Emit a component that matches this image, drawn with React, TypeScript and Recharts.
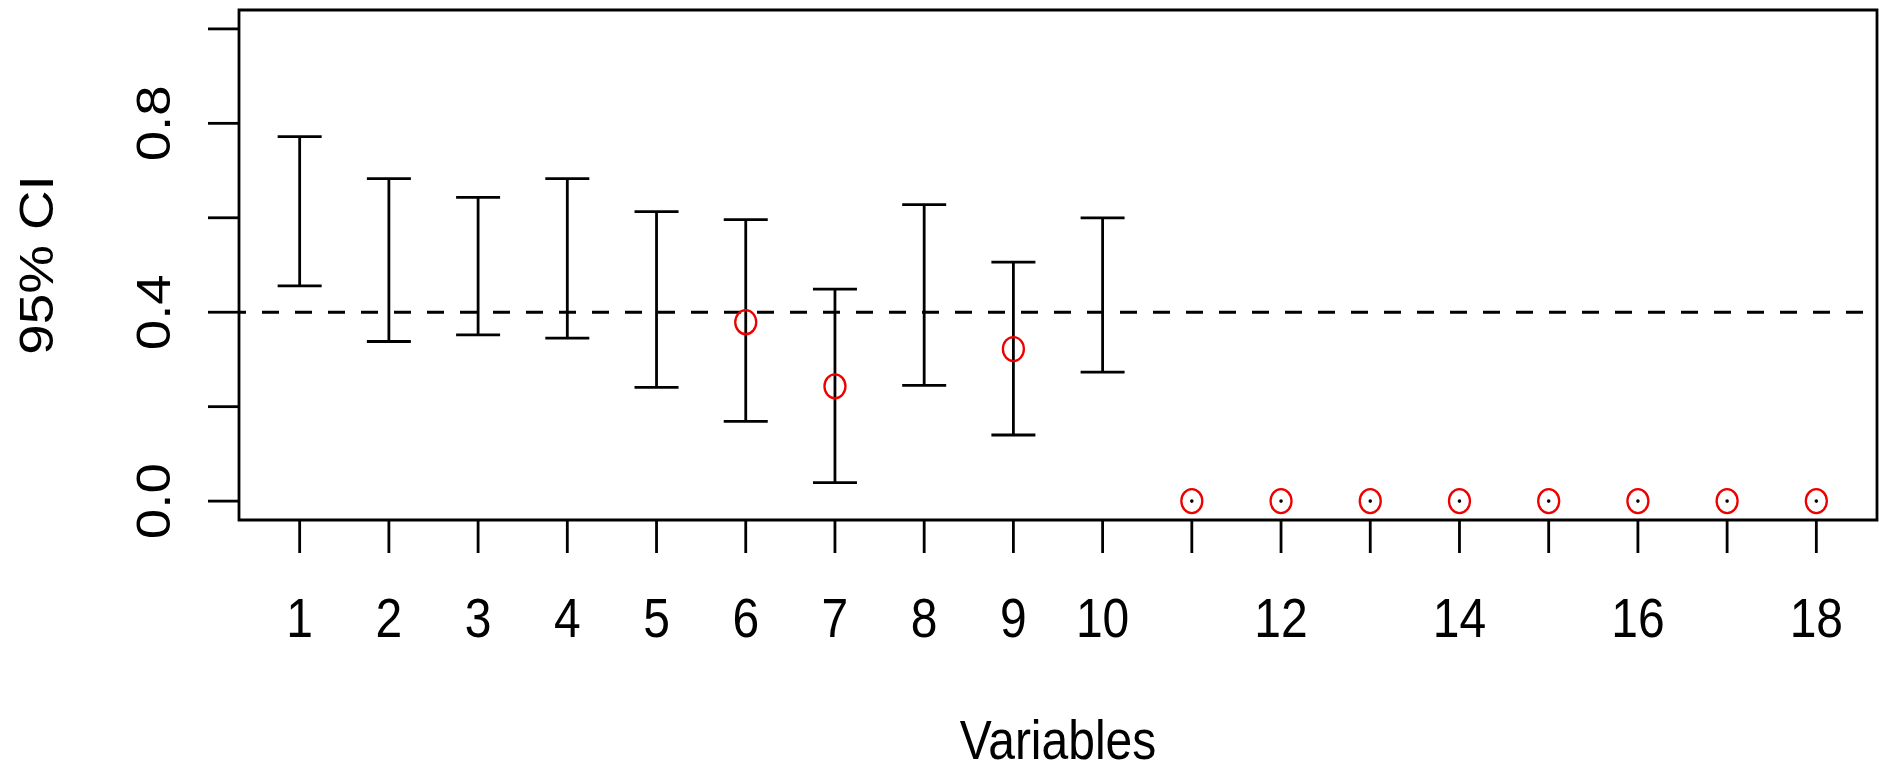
import React from 'react';
import {
  ComposedChart,
  Scatter,
  ErrorBar,
  XAxis,
  YAxis,
  ReferenceLine,
  ReferenceArea,
} from 'recharts';

// ---- data ----
const variables = [1, 2, 3, 4, 5, 6, 7, 8, 9, 10, 11, 12, 13, 14, 15, 16, 17, 18];
const ciLower = [0.456, 0.338, 0.352, 0.345, 0.241, 0.169, 0.039, 0.245, 0.14, 0.273, 0, 0, 0, 0, 0, 0, 0, 0];
const ciUpper = [0.772, 0.683, 0.643, 0.683, 0.613, 0.596, 0.449, 0.628, 0.506, 0.6, 0, 0, 0, 0, 0, 0, 0, 0];
const estimates: (number | null)[] = [null, null, null, null, null, 0.379, 0.243, null, 0.322, null, 0, 0, 0, 0, 0, 0, 0, 0];
const referenceValue = 0.4;

const xTicks = variables;
const xTickLabels = ['1', '2', '3', '4', '5', '6', '7', '8', '9', '10', '', '12', '', '14', '', '16', '', '18'];
const yTicks = [0, 0.2, 0.4, 0.6, 0.8, 1.0];
const yTickLabels = ['0.0', '', '0.4', '', '0.8', ''];
const xTitle = 'Variables';
const yTitle = '95% CI';

// ---- derived tables ----
const ciData = variables
  .map((v, i) => {
    const lo = ciLower[i];
    const hi = ciUpper[i];
    const mid = (lo + hi) / 2;
    return { x: v, mid, err: [mid - lo, hi - mid], width: hi - lo };
  })
  .filter((d) => d.width > 0);

const pointData = variables
  .map((v, i) => ({ x: v, y: estimates[i], degenerate: ciUpper[i] - ciLower[i] === 0 }))
  .filter((d) => d.y !== null);

// ---- styling ----
const FONT = '"Liberation Sans", Arial, Helvetica, sans-serif';
const FS = 48;
const STRETCH = 1.14;
const W = 1879;
const H = 772;
const LW = 2.8;

const XTick = (props: any) => {
  const { x, payload } = props;
  const idx = xTicks.indexOf(payload.value);
  const label = idx >= 0 ? xTickLabels[idx] : '';
  if (!label) return <g />;
  return (
    <text
      transform={`translate(${x},637) scale(1,${STRETCH})`}
      textAnchor="middle"
      fontSize={FS}
      fontFamily={FONT}
      fill="#000"
    >
      {label}
    </text>
  );
};

const YTick = (props: any) => {
  const { y, payload } = props;
  const idx = yTicks.findIndex((t) => Math.abs(t - payload.value) < 1e-9);
  const label = idx >= 0 ? yTickLabels[idx] : '';
  if (!label) return <g />;
  return (
    <text
      transform={`translate(170,${y}) scale(1,${STRETCH}) rotate(-90)`}
      textAnchor="middle"
      fontSize={FS}
      fontFamily={FONT}
      fill="#000"
    >
      {label}
    </text>
  );
};

const XTitle = (props: any) => {
  const vb = props.viewBox || {};
  const cx = (vb.x ?? 239) + (vb.width ?? 1638) / 2;
  return (
    <text
      transform={`translate(${cx},759) scale(1,${STRETCH})`}
      textAnchor="middle"
      fontSize={FS}
      fontFamily={FONT}
      fill="#000"
    >
      {xTitle}
    </text>
  );
};

const YTitle = (props: any) => {
  const vb = props.viewBox || {};
  const cy = (vb.y ?? 10) + (vb.height ?? 510) / 2;
  return (
    <text
      transform={`translate(53,${cy}) scale(1,${STRETCH}) rotate(-90)`}
      textAnchor="middle"
      fontSize={FS}
      fontFamily={FONT}
      fill="#000"
    >
      {yTitle}
    </text>
  );
};

const HiddenPoint = () => <g />;

const RedPoint = (props: any) => {
  const { cx, cy, payload } = props;
  if (cx == null || cy == null) return <g />;
  return (
    <g>
      <ellipse cx={cx} cy={cy} rx={10.5} ry={12} fill="none" stroke="#ee0000" strokeWidth={2.3} />
      {payload.degenerate ? <circle cx={cx} cy={cy} r={1.8} fill="#000" /> : null}
    </g>
  );
};

export default function App() {
  return (
    <div style={{ position: 'absolute', left: 0, top: 0, width: W, height: H, background: '#fff' }}>
      <ComposedChart
        width={W}
        height={H}
        margin={{ top: 10, right: 2, bottom: 0, left: 0 }}
        style={{ fontFamily: FONT }}
      >
        <XAxis
          dataKey="x"
          type="number"
          domain={[0.32, 18.68]}
          allowDataOverflow
          ticks={xTicks}
          interval={0}
          height={252}
          axisLine={false}
          tickSize={33}
          tickLine={{ stroke: '#000', strokeWidth: LW }}
          tick={<XTick />}
          label={<XTitle />}
        />
        <YAxis
          type="number"
          domain={[-0.04, 1.04]}
          allowDataOverflow
          ticks={yTicks}
          interval={0}
          width={239}
          axisLine={false}
          tickSize={31}
          tickLine={{ stroke: '#000', strokeWidth: LW }}
          tick={<YTick />}
          label={<YTitle />}
        />
        <ReferenceArea
          x1={0.32}
          x2={18.68}
          y1={-0.04}
          y2={1.04}
          fill="none"
          fillOpacity={0}
          stroke="#000"
          strokeWidth={LW}
          ifOverflow="visible"
        />
        <ReferenceLine
          y={referenceValue}
          stroke="#000"
          strokeWidth={3}
          strokeDasharray="17 16"
          strokeDashoffset={10}
          ifOverflow="visible"
        />
        <Scatter data={ciData} dataKey="mid" shape={<HiddenPoint />} isAnimationActive={false}>
          <ErrorBar
            dataKey="err"
            direction="y"
            width={22}
            stroke="#000"
            strokeWidth={LW}
            isAnimationActive={false}
          />
        </Scatter>
        <Scatter data={pointData} dataKey="y" shape={<RedPoint />} isAnimationActive={false} />
      </ComposedChart>
    </div>
  );
}
